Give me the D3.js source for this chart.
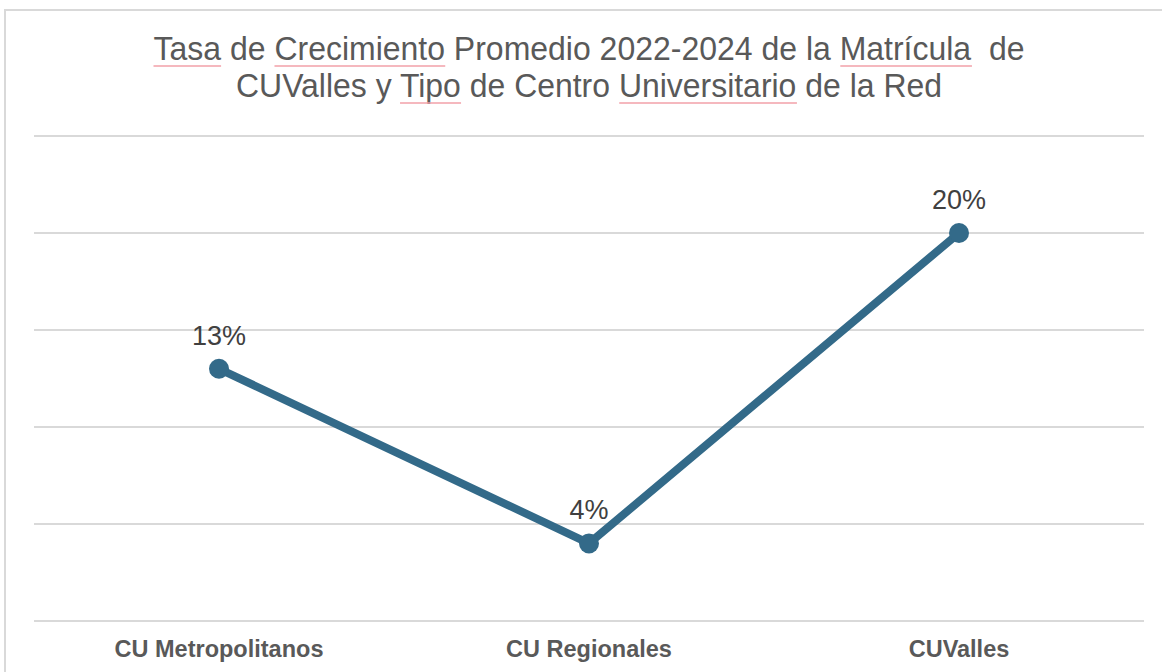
<!DOCTYPE html>
<html><head><meta charset="utf-8">
<script src="https://cdn.jsdelivr.net/npm/d3@7"></script>
<style>html,body{margin:0;padding:0;background:#fff;}svg{display:block;}</style>
</head><body>
<svg id="c" width="1162" height="672"></svg>
<script>
const categories = ["CU Metropolitanos", "CU Regionales", "CUValles"];
const values = [0.13, 0.04, 0.20];
const yTicks = [0, 0.05, 0.10, 0.15, 0.20, 0.25];
const titleLines = ["Tasa de Crecimiento Promedio 2022-2024 de la Matrícula  de", "CUValles y Tipo de Centro Universitario de la Red"];
const flagged = [["Tasa","Crecimiento","Matrícula"],["Tipo","Universitario"]];

const svg = d3.select("#c");
const W = 1162, H = 672;
const m = {left: 34, right: 18, top: 136, bottom: 51};
const FONT = "Liberation Sans, Arial, sans-serif";

// outer border
svg.append("rect").attr("x", 5).attr("y", 10).attr("width", W + 10).attr("height", H + 10)
  .attr("fill", "none").attr("stroke", "#d9d9d9").attr("stroke-width", 2);

const x = d3.scaleBand().domain(categories).range([m.left, W - m.right]);
const y = d3.scaleLinear().domain([0, 0.25]).range([H - m.bottom, m.top]);

// gridlines
svg.append("g").selectAll("line").data(yTicks).join("line")
  .attr("x1", m.left).attr("x2", W - m.right)
  .attr("y1", d => y(d)).attr("y2", d => y(d))
  .attr("stroke", "#d9d9d9").attr("stroke-width", 2);

// x axis labels
const xAxis = svg.append("g").attr("transform", `translate(0,${H - m.bottom})`)
  .call(d3.axisBottom(x).tickSize(0).tickPadding(0));
xAxis.select(".domain").remove();
xAxis.selectAll("text").attr("dy", null).attr("y", 36)
  .attr("font-family", FONT)
  .attr("font-size", 23.5).attr("font-weight", "bold").attr("fill", "#595959");

// title
const title = svg.append("g");
const titleW = [871, 706];
titleLines.forEach((t, i) => {
  const by = 60 + i * 37;
  const txt = title.append("text").attr("x", 589).attr("y", by)
    .attr("text-anchor", "middle").attr("font-family", FONT)
    .attr("font-size", 32.5).attr("fill", "#595959").attr("xml:space", "preserve")
    .attr("textLength", titleW[i]).attr("lengthAdjust", "spacingAndGlyphs").text(t);
  const node = txt.node();
  const x0 = 589 - titleW[i] / 2;
  flagged[i].forEach(w => {
    const idx = t.indexOf(w);
    if (idx < 0) return;
    let pre = 0;
    for (let j = 0; j < idx; j++) pre += node.getSubStringLength(j, 1);
    let len = 0;
    for (let j = idx; j < idx + w.length; j++) len += node.getSubStringLength(j, 1);
    title.append("line").attr("x1", x0 + pre).attr("x2", x0 + pre + len)
      .attr("y1", by + 6).attr("y2", by + 6)
      .attr("stroke", "#f2a0a8").attr("stroke-width", 1.3);
  });
});

const cx = d => x(d) + x.bandwidth() / 2;
const data = categories.map((c, i) => ({c, v: values[i]}));

svg.append("path").datum(data)
  .attr("d", d3.line().x(d => cx(d.c)).y(d => y(d.v)))
  .attr("fill", "none").attr("stroke", "#336a89").attr("stroke-width", 8)
  .attr("stroke-linejoin", "round");

svg.append("g").selectAll("circle").data(data).join("circle")
  .attr("cx", d => cx(d.c)).attr("cy", d => y(d.v)).attr("r", 10)
  .attr("fill", "#336a89");

svg.append("g").selectAll("text").data(data).join("text")
  .attr("x", d => cx(d.c)).attr("y", d => y(d.v) - 24)
  .attr("text-anchor", "middle").attr("font-family", FONT)
  .attr("font-size", 27).attr("fill", "#404040")
  .text(d => d3.format(".0%")(d.v));
</script>
</body></html>
